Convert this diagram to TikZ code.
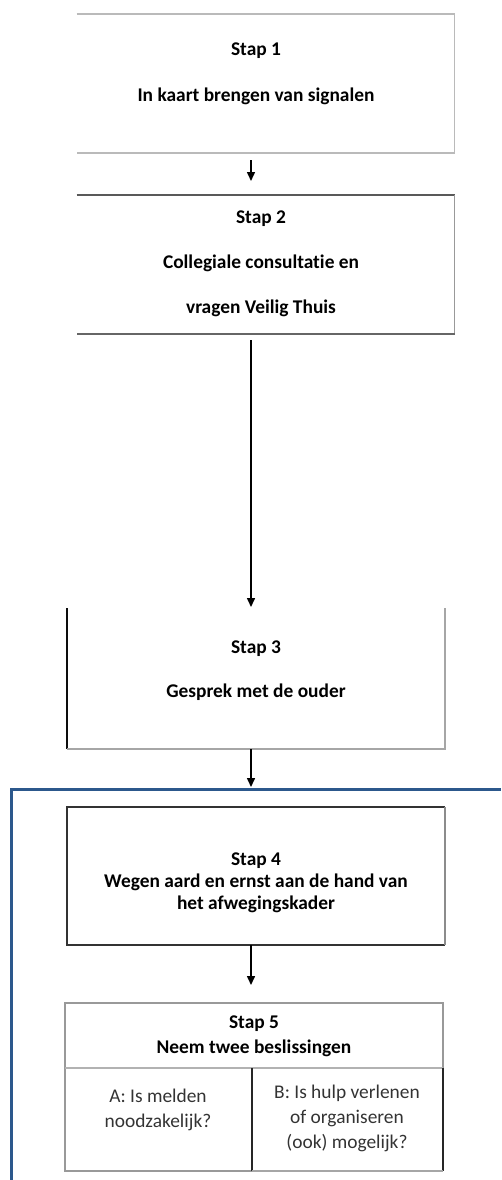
\documentclass[tikz,border=0pt]{standalone}
\usepackage{fontspec}
\setmainfont{Carlito}[Ligatures=NoCommon]
\usetikzlibrary{arrows.meta}
\definecolor{frameblue}{RGB}{44,88,140}

\begin{document}
\begin{tikzpicture}
    [   x=1pt,y=-1pt,
        box/.style={inner sep=0pt,outer sep=0pt,minimum width=378pt,minimum height=#1},
        txt/.style={align=center,font=\fontsize{19.4}{22}\selectfont\bfseries},
        choice/.style={align=center,text=black!80,font=\fontsize{19.4}{25}\selectfont},
        border/.style={line width=1.3pt,draw=black!#1},
        arr/.style={line width=1.5pt,-{Triangle[length=9pt,width=8pt]}},
    ]
        \useasboundingbox (0,0) rectangle (501,1180);
        \node[box=139pt] (s1) at (265.5,83.5) {};
        \node[box=139pt] (s2) at (265.5,264.5) {};
        \node[box=141pt] (s3) at (256,678.5) {};
        \node[box=138pt] (s4) at (256,876) {};
        \node[box=65pt] (s5) at (254,1035.5) {};
        \node[box=103pt,minimum width=187pt] (s5a) at (158.5,1119.5) {};
        \node[box=103pt,minimum width=191pt] (s5b) at (347.5,1119.5) {};
        \coordinate (ax) at (251,0);
        % frame round stap 4 and 5
        \draw[frameblue,line width=3pt] (11,1180) -- (11,789) -- (501,789);
        \draw[border=27] (s1.north west) -- (s1.north east) -- (s1.south east) -- (s1.south west);
        \draw[border=65] (s2.north west) -- (s2.north east);
        \draw[border=40] (s2.north east) -- (s2.south east);
        \draw[border=60] (s2.south east) -- (s2.south west);
        \draw[border=95] (s3.north west) -- (s3.south west);
        \draw[border=35] (s3.south west) -- (s3.south east) -- (s3.north east);
        \draw[border=80] (s4.north east) -- (s4.north west) -- (s4.south west) -- (s4.south east);
        \draw[border=45] (s4.north east) -- (s4.south east);
        \draw[border=40] (s5a.south east) -- (s5a.south west) -- (s5.north west) -- (s5.north east) -- (s5b.north east);
        \draw[border=30] (s5.south west) -- (s5.south east);
        \draw[border=85] (s5a.north east) -- (s5a.south east);
        \draw[border=85] (s5b.north east) -- (s5b.south east);
        \draw[border=35] (s5b.south west) -- (s5b.south east);
        \node[txt] (t1) at (256,74) {Stap 1\\[24pt]In kaart brengen van signalen};
        \node[txt] (t2) at (261,263.5) {Stap 2\\[23pt]Collegiale consultatie en\\[23pt]vragen Veilig Thuis};
        \node[txt] (t3) at (256,670.5) {Stap 3\\[22pt]Gesprek met de ouder};
        \node[txt] (t4) at (256,882.5) {Stap 4\\Wegen aard en ernst aan de hand van\\het afwegingskader};
        \node[txt] (t5) at (254,1036) {Stap 5\\[3pt]Neem twee beslissingen};
        \node[choice] (ta) at (158,1110) {A: Is melden\\noodzakelijk?};
        \node[choice] (tb) at (347,1118.5) {B: Is hulp verlenen\\of organiseren\\(ook) mogelijk?};
        \foreach \a/\b/\p/\q in {s1/s2/7/14,s2/s3/6/1,s3/s4/0/20,s4/s5/0/18}
        {   \draw[arr,shorten <=\p pt,shorten >=\q pt] (\a.south -| ax) -- (\b.north -| ax);
        }
    \end{tikzpicture}
\end{document}
